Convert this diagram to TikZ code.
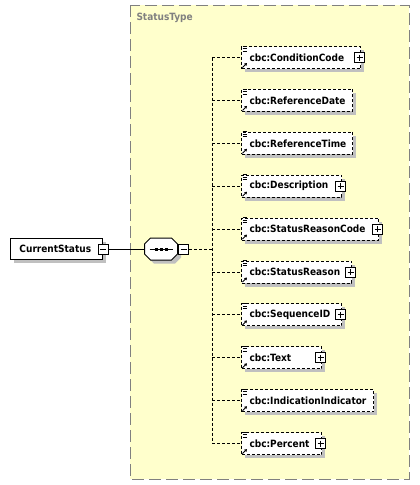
\documentclass[tikz,border=0pt]{standalone}
\usepackage{fontspec}
\setmainfont{DejaVu Sans Condensed}
\usetikzlibrary{calc,shadows,arrows.meta}

\definecolor{typefill}{RGB}{255,255,204}
\definecolor{typeline}{RGB}{128,128,128}
\definecolor{shade}{RGB}{192,192,192}

\tikzset{
  shd/.style={drop shadow={shadow xshift=3.5pt, shadow yshift=-3.5pt, fill=shade, opacity=1}},
  lbl/.style={font=\fontsize{10}{12}\selectfont\bfseries},
  dsh/.style={dash pattern=on 3pt off 2pt},
  elem/.style={draw, dsh, fill=white, shd, anchor=west, minimum height=22pt,
    inner xsep=0pt, inner ysep=0pt, align=left, lbl},
  pmbox/.style={draw, solid, fill=white, minimum size=10pt, inner sep=0pt},
  plusbox/.style={pmbox, path picture={
    \draw ([xshift=2pt]path picture bounding box.west) -- ([xshift=-2pt]path picture bounding box.east);
    \draw ([yshift=-2pt]path picture bounding box.north) -- ([yshift=2pt]path picture bounding box.south);}},
  minusbox/.style={pmbox, path picture={
    \draw ([xshift=2pt]path picture bounding box.west) -- ([xshift=-2pt]path picture bounding box.east);}},
}

\begin{document}
\begin{tikzpicture}[x=1pt, y=-1pt, line width=1pt]
\useasboundingbox (0,0) rectangle (420,485);
%% complex type frame
\draw[typeline, dash pattern=on 12pt off 5pt, fill=typefill] (130,5) rectangle (409,479);
\node[anchor=west, inner sep=0pt, text=typeline, lbl] (typename) at (136,18) {StatusType};
%
% root element
\node[draw, fill=white, shd, anchor=west, minimum height=21pt, inner xsep=0pt, inner ysep=0pt,
  text width=92pt, align=left, lbl] (root) at (10,249) {\hspace*{9pt}CurrentStatus};
\node[minusbox] (rootpm) at (root.east) {};
%
% sequence compositor
\node[minimum width=32pt, minimum height=21pt, inner sep=0pt] (seq) at (161,249) {};
\draw[fill=white, shd] ($(seq.north west)+(6,0)$) -- ($(seq.north east)+(-6,0)$) -- ($(seq.north east)+(0,6)$)
  -- ($(seq.south east)+(0,-6)$) -- ($(seq.south east)+(-6,0)$) -- ($(seq.south west)+(6,0)$)
  -- ($(seq.south west)+(0,-6)$) -- ($(seq.north west)+(0,6)$) -- cycle;
\draw ($(seq.west)+(5,0)$) -- ($(seq.east)+(-5,0)$);
\foreach\x in {-5,0,5}
  \fill ($(seq.center)+(\x-1.5,-1.5)$) rectangle ++(3,3);
\node[minusbox] (seqpm) at (183.5,249) {};
\draw (rootpm) -- (seq);
%
% spine
\coordinate (sm) at (212,249);
\draw[dsh] (seqpm) -- (sm);
%
% child elements
\foreach\i/\name/\rgt/\pl in {1/ConditionCode/360/1, 2/ReferenceDate/352/0, 3/ReferenceTime/352/0,
  4/Description/341/1, 5/StatusReasonCode/378/1, 6/StatusReason/351/1, 7/SequenceID/341/1,
  8/Text/321/1, 9/IndicationIndicator/373/0, 10/Percent/321/1}
  {
  \pgfmathsetmacro\yy{57.5+(\i-1)*42.9}
  \pgfmathsetmacro\ww{\rgt-241}
  \coordinate (s\i) at (212,\yy);
  \node[elem, text width=\ww pt] (e\i) at (241,\yy) {\hspace*{8pt}cbc:\name};
  \draw[dsh] (s\i) -- (e\i);
  % icons
  \foreach\k in {0,2.5,5}
    \draw[line width=0.8pt] ($(e\i.north west)+(1.5,\k)$) -- ++(4.5,0);
  \draw[line width=0.9pt, -{Triangle[length=2.5pt,width=3pt]}] ($(e\i.south west)+(1.5,-1.5)$) -- ++(4.5,-4.5);
  \ifnum\pl=1
    \node[plusbox] (p\i) at ($(e\i.east)+(-1.5,0)$) {};
  \fi
  }
\draw[dsh] (s1) -- (s10);
\end{tikzpicture}
\end{document}
